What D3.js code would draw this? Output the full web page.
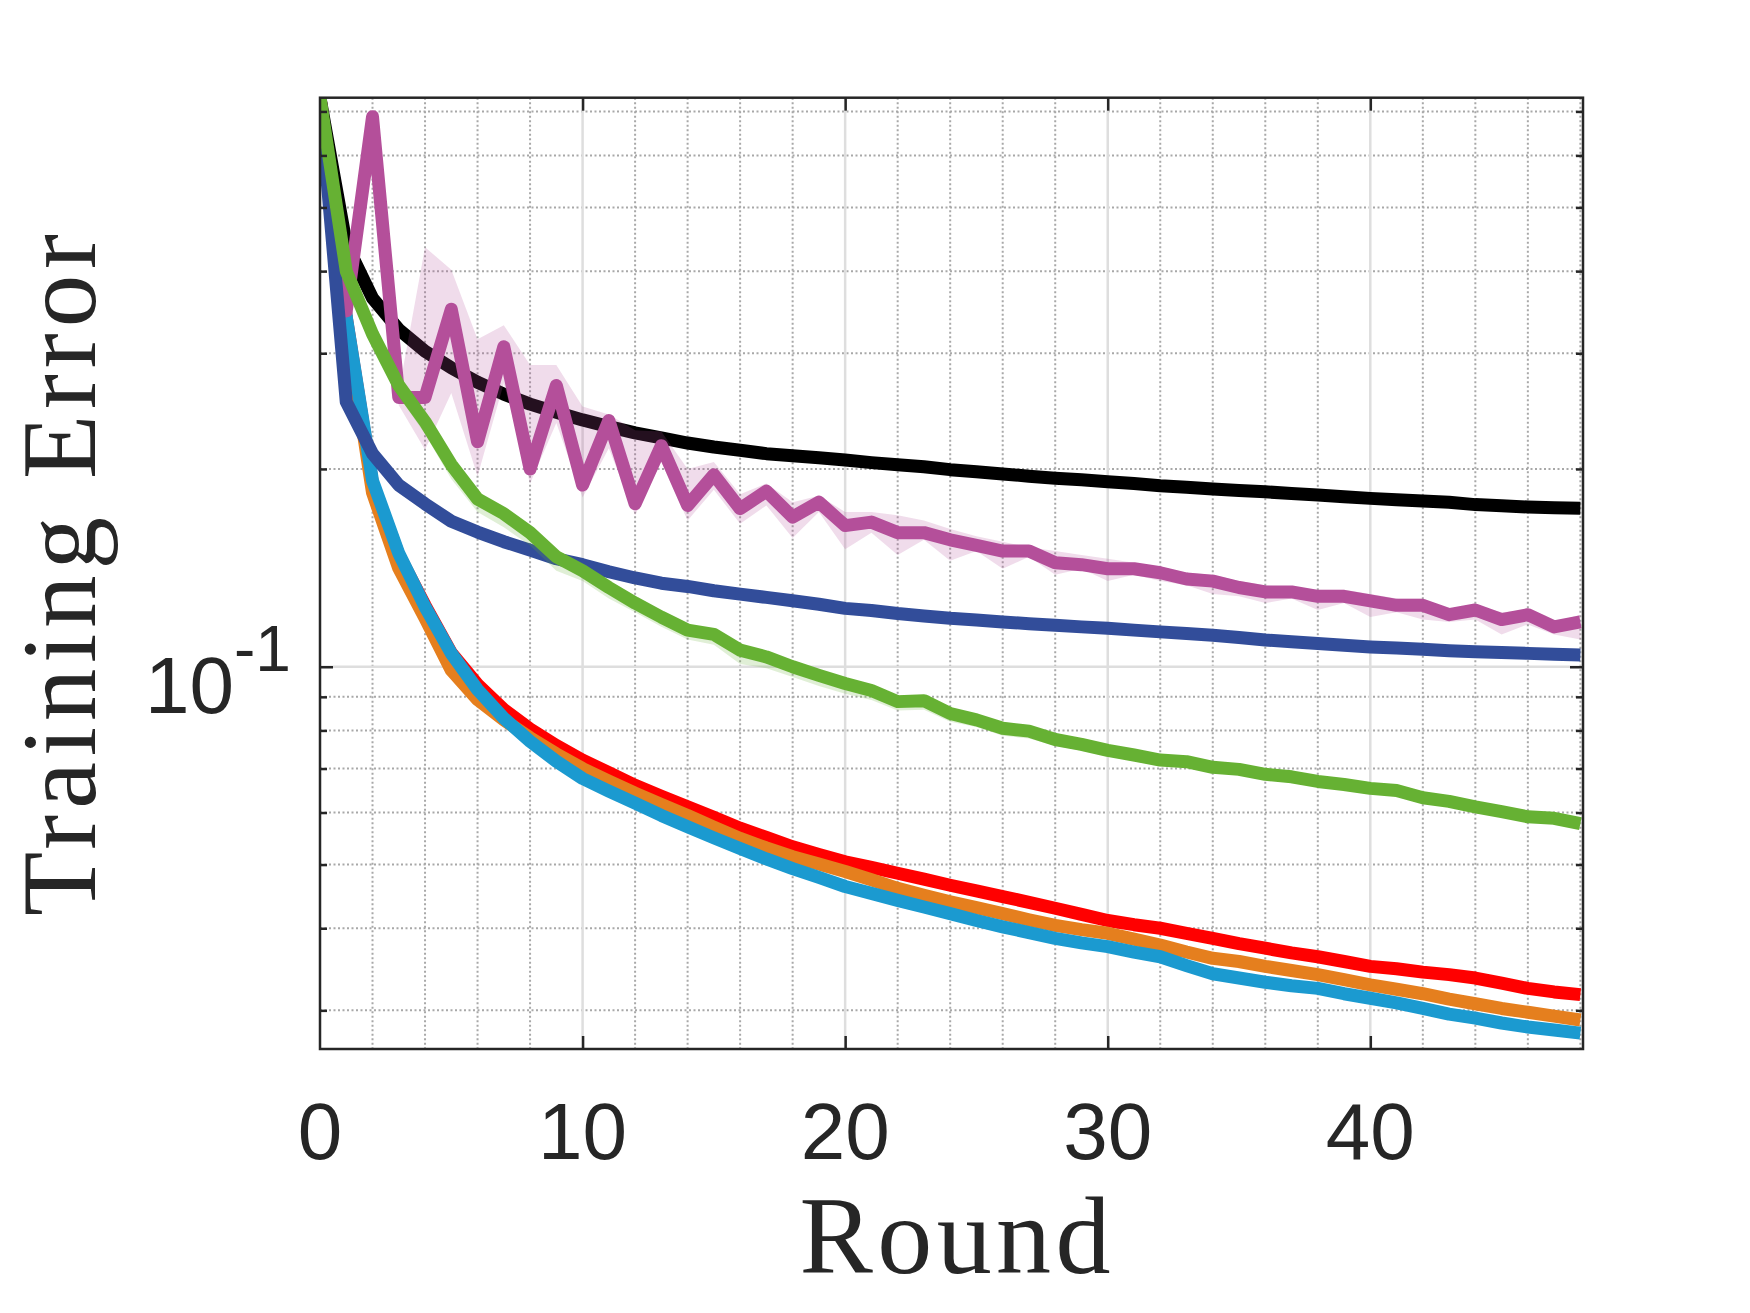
<!DOCTYPE html>
<html lang="en">
<head>
<meta charset="UTF-8">
<script src="https://d3js.org/d3.v7.min.js"></script>
<title>Training Error</title>
<style>
  body { margin: 0; background: #fff; }
  svg { display: block; }
</style>
</head>
<body>
<div id="chart"></div>
<script>
// rounds 0..48
const rounds = d3.range(0, 49);

// series values
const blackVals = [0.734,0.44,0.364,0.326,0.302,0.285,0.271,0.260,0.251,0.244,0.2375,0.232,0.227,0.223,0.219,0.216,0.2135,0.211,0.2095,0.208,0.2064,0.2045,0.203,0.2015,0.1995,0.198,0.1965,0.195,0.1936,0.1925,0.1912,0.190,0.1885,0.1875,0.1865,0.1855,0.1846,0.1835,0.1825,0.1815,0.1804,0.1795,0.1787,0.178,0.1765,0.1758,0.175,0.1745,0.1742];
const magentaVals = [0.734,0.348,0.687,0.257,0.257,0.350,0.220,0.307,0.200,0.268,0.189,0.237,0.177,0.217,0.176,0.196,0.174,0.185,0.169,0.178,0.164,0.166,0.160,0.160,0.156,0.153,0.150,0.150,0.144,0.143,0.141,0.141,0.139,0.136,0.135,0.132,0.130,0.130,0.128,0.128,0.126,0.124,0.124,0.120,0.122,0.118,0.120,0.115,0.117];
const magentaHi = [0.734,0.36,0.70,0.262,0.435,0.402,0.315,0.331,0.288,0.288,0.249,0.242,0.229,0.228,0.200,0.205,0.183,0.190,0.178,0.182,0.172,0.172,0.170,0.167,0.162,0.158,0.155,0.152,0.150,0.148,0.146,0.144,0.142,0.139,0.138,0.135,0.133,0.132,0.131,0.131,0.129,0.127,0.127,0.122,0.124,0.121,0.122,0.117,0.120];
const magentaLo = [0.734,0.335,0.67,0.250,0.214,0.261,0.195,0.27,0.190,0.235,0.181,0.215,0.170,0.205,0.167,0.186,0.165,0.176,0.157,0.172,0.151,0.160,0.148,0.156,0.145,0.150,0.141,0.147,0.138,0.141,0.135,0.138,0.135,0.133,0.129,0.128,0.125,0.127,0.122,0.125,0.119,0.121,0.118,0.117,0.118,0.112,0.116,0.112,0.110];
const blueVals = [0.734,0.253,0.211,0.189,0.177,0.1665,0.1603,0.155,0.1505,0.146,0.143,0.1395,0.1365,0.134,0.1325,0.1305,0.129,0.1275,0.126,0.1245,0.1227,0.1218,0.1205,0.1195,0.1185,0.1178,0.117,0.1163,0.1157,0.115,0.1144,0.1137,0.113,0.1124,0.1117,0.1108,0.1098,0.1092,0.1085,0.1078,0.1072,0.1068,0.1063,0.1058,0.1054,0.1051,0.1048,0.1045,0.1042];
const greenVals = [0.734,0.40,0.321,0.268,0.236,0.203,0.180,0.171,0.160,0.147,0.140,0.132,0.125,0.119,0.1137,0.112,0.106,0.1035,0.100,0.097,0.0943,0.092,0.0885,0.0888,0.0849,0.083,0.0806,0.0798,0.0775,0.0762,0.0746,0.0734,0.0721,0.0717,0.0703,0.0698,0.0686,0.0680,0.0669,0.0662,0.0653,0.0648,0.0632,0.0624,0.0612,0.0602,0.0591,0.0588,0.0577];
const greenHi = [0.734,0.405,0.325,0.272,0.240,0.207,0.183,0.174,0.162,0.149,0.142,0.134,0.127,0.121,0.1155,0.1135,0.1075,0.105,0.1015,0.0985,0.0955,0.0932,0.0897,0.090,0.0861,0.0842,0.0818,0.0812,0.0789,0.0775,0.0758,0.0745,0.0731,0.0727,0.0712,0.0707,0.0695,0.0689,0.0677,0.0670,0.0661,0.0656,0.0640,0.0632,0.0619,0.0609,0.0598,0.0594,0.0583];
const greenLo = [0.734,0.39,0.313,0.258,0.226,0.193,0.172,0.163,0.153,0.140,0.135,0.127,0.121,0.115,0.110,0.108,0.101,0.0995,0.0965,0.0935,0.091,0.089,0.0858,0.086,0.0825,0.081,0.0785,0.0778,0.0758,0.0745,0.073,0.072,0.071,0.0703,0.069,0.0686,0.0675,0.067,0.0659,0.0652,0.0644,0.0639,0.0624,0.0617,0.0605,0.0596,0.0585,0.0582,0.0572];
const redVals = [0.734,0.340,0.190,0.148,0.124,0.105,0.0940,0.0861,0.0804,0.0759,0.0721,0.069,0.066,0.0635,0.0612,0.059,0.0568,0.055,0.0532,0.0518,0.0505,0.0495,0.0485,0.0475,0.0465,0.0456,0.0447,0.0438,0.0429,0.042,0.0411,0.0405,0.040,0.0393,0.0386,0.0379,0.0373,0.0367,0.0362,0.0356,0.035,0.0347,0.0343,0.034,0.0336,0.033,0.0324,0.032,0.0317];
const orangeVals = [0.734,0.335,0.184,0.1412,0.1185,0.0988,0.0891,0.0830,0.0780,0.0737,0.0700,0.067,0.0642,0.0617,0.0594,0.057,0.0548,0.053,0.0514,0.0501,0.0488,0.0474,0.046,0.0449,0.0439,0.043,0.0421,0.0412,0.0404,0.0398,0.0393,0.0385,0.0377,0.0368,0.036,0.0356,0.035,0.0345,0.034,0.0334,0.0328,0.0323,0.0318,0.0312,0.0307,0.0302,0.0298,0.0294,0.029];
const cyanVals = [0.734,0.341,0.192,0.1488,0.1234,0.1048,0.0923,0.0835,0.0770,0.0718,0.0676,0.0647,0.062,0.0594,0.0571,0.0549,0.0529,0.051,0.0493,0.0478,0.0463,0.0452,0.0441,0.0431,0.0421,0.0411,0.0402,0.0394,0.0386,0.038,0.0375,0.0368,0.0362,0.0351,0.0341,0.0336,0.0331,0.0327,0.0324,0.0318,0.0313,0.0308,0.0302,0.0296,0.0292,0.0287,0.0283,0.028,0.0277];

// ticks / grid
const xMajor = [10, 20, 30, 40];
const xLabels = [0, 10, 20, 30, 40];
const xMinor = d3.range(2, 49, 2).filter(v => v % 10 !== 0);
const yMajor = [0.1];
const yMinor = [0.03, 0.04, 0.05, 0.06, 0.07, 0.08, 0.09, 0.2, 0.3, 0.4, 0.5, 0.6, 0.7];

const width = 1750, height = 1313;
const pLeft = 320, pRight = 1583, pTop = 97.7, pBottom = 1049;
const axisColor = "#262626";
const sans = "'Liberation Sans', Arial, Helvetica, sans-serif";
const serif = "'Liberation Serif', 'Times New Roman', serif";

const x = d3.scaleLinear().domain([0, 48.1]).range([pLeft, pRight]);
const y = d3.scaleLog().domain([0.0262, 0.7345]).range([pBottom, pTop]);

const svg = d3.select("#chart").append("svg")
    .attr("width", width)
    .attr("height", height);

svg.append("rect").attr("width", width).attr("height", height).attr("fill", "#fff");

svg.append("clipPath").attr("id", "plot-clip")
  .append("rect")
    .attr("x", pLeft).attr("y", pTop)
    .attr("width", pRight - pLeft).attr("height", pBottom - pTop);

// grid lines
const grid = svg.append("g");
grid.selectAll(".xminor").data(xMinor).enter().append("line")
    .attr("x1", d => x(d)).attr("x2", d => x(d))
    .attr("y1", pTop).attr("y2", pBottom)
    .attr("stroke", "#a8a8a8").attr("stroke-width", 2)
    .attr("stroke-dasharray", "2,2.5");
grid.selectAll(".yminor").data(yMinor).enter().append("line")
    .attr("x1", pLeft).attr("x2", pRight)
    .attr("y1", d => y(d)).attr("y2", d => y(d))
    .attr("stroke", "#a8a8a8").attr("stroke-width", 2)
    .attr("stroke-dasharray", "2,2.5");
grid.selectAll(".xmajor").data(xMajor).enter().append("line")
    .attr("x1", d => x(d)).attr("x2", d => x(d))
    .attr("y1", pTop).attr("y2", pBottom)
    .attr("stroke", "#dedede").attr("stroke-width", 2.5);
grid.selectAll(".ymajor").data(yMajor).enter().append("line")
    .attr("x1", pLeft).attr("x2", pRight)
    .attr("y1", d => y(d)).attr("y2", d => y(d))
    .attr("stroke", "#dedede").attr("stroke-width", 2.5);

// data
const plot = svg.append("g").attr("clip-path", "url(#plot-clip)");

const line = vals => d3.line()
    .x((d, i) => x(rounds[i]))
    .y(d => y(d))(vals);

const band = (lo, hi) => d3.area()
    .x((d, i) => x(rounds[i]))
    .y0((d, i) => y(lo[i]))
    .y1((d, i) => y(hi[i]))(lo);

const drawLine = (vals, color) => {
  plot.append("path")
      .attr("d", line(vals))
      .attr("fill", "none")
      .attr("stroke", color)
      .attr("stroke-width", 13)
      .attr("stroke-linejoin", "round")
      .attr("stroke-linecap", "butt");
};

const drawBand = (lo, hi, color) => {
  plot.append("path")
      .attr("d", band(lo, hi))
      .attr("fill", color)
      .attr("fill-opacity", 0.2)
      .attr("stroke", "none");
};

drawLine(redVals, "#ff0000");
drawLine(orangeVals, "#e57f1e");
drawLine(cyanVals, "#1b9ad0");
drawLine(blackVals, "#000000");
drawBand(magentaLo, magentaHi, "#b44f9a");
drawLine(magentaVals, "#b44f9a");
drawLine(blueVals, "#324d9a");
drawBand(greenLo, greenHi, "#66b133");
drawLine(greenVals, "#66b133");

// axes: box with inward ticks
const axes = svg.append("g");

axes.append("g").attr("transform", `translate(0,${pBottom})`)
    .call(d3.axisBottom(x).tickValues(xMajor).tickSize(-13).tickFormat(""));
axes.append("g").attr("transform", `translate(0,${pTop})`)
    .call(d3.axisTop(x).tickValues(xMajor).tickSize(-13).tickFormat(""));
axes.append("g").attr("transform", `translate(${pLeft},0)`)
    .call(d3.axisLeft(y).tickValues(yMinor).tickSize(-7).tickFormat(""));
axes.append("g").attr("transform", `translate(${pLeft},0)`)
    .call(d3.axisLeft(y).tickValues(yMajor).tickSize(-13).tickFormat(""));
axes.append("g").attr("transform", `translate(${pRight},0)`)
    .call(d3.axisRight(y).tickValues(yMinor).tickSize(-7).tickFormat(""));
axes.append("g").attr("transform", `translate(${pRight},0)`)
    .call(d3.axisRight(y).tickValues(yMajor).tickSize(-13).tickFormat(""));

axes.selectAll(".domain").remove();
axes.selectAll(".tick line").attr("stroke", axisColor).attr("stroke-width", 2.5);

axes.append("rect")
    .attr("x", pLeft).attr("y", pTop)
    .attr("width", pRight - pLeft).attr("height", pBottom - pTop)
    .attr("fill", "none")
    .attr("stroke", axisColor)
    .attr("stroke-width", 2.5);

// tick labels
svg.append("g").selectAll("text").data(xLabels).enter().append("text")
    .attr("x", d => x(d))
    .attr("y", 1159)
    .attr("text-anchor", "middle")
    .attr("font-family", sans)
    .attr("font-size", 80)
    .attr("fill", axisColor)
    .text(d => d);

const yLab = svg.append("g").selectAll("g").data(yMajor).enter().append("g");
yLab.append("text")
    .attr("x", 234)
    .attr("y", d => y(d) + 46)
    .attr("text-anchor", "end")
    .attr("font-family", sans)
    .attr("font-size", 80)
    .attr("fill", axisColor)
    .text("10");
yLab.append("text")
    .attr("x", 234)
    .attr("y", d => y(d) + 4)
    .attr("text-anchor", "start")
    .attr("font-family", sans)
    .attr("font-size", 64)
    .attr("fill", axisColor)
    .text(d => "-" + Math.round(-Math.log10(d)));

// axis titles
svg.append("text")
    .attr("x", 955)
    .attr("y", 1273)
    .attr("text-anchor", "middle")
    .attr("font-family", serif)
    .attr("font-size", 110)
    .attr("textLength", 311)
    .attr("lengthAdjust", "spacing")
    .attr("fill", axisColor)
    .text("Round");

svg.append("text")
    .attr("transform", "translate(95,575) rotate(-90)")
    .attr("text-anchor", "middle")
    .attr("font-family", serif)
    .attr("font-size", 105)
    .attr("textLength", 682)
    .attr("lengthAdjust", "spacing")
    .attr("fill", axisColor)
    .text("Training Error");
</script>
</body>
</html>
